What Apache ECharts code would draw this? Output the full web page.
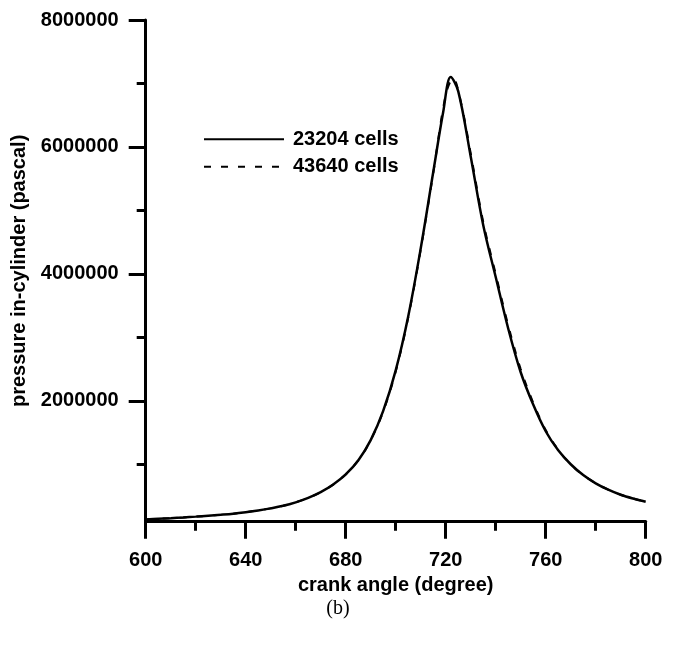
<!DOCTYPE html>
<html>
<head>
<meta charset="utf-8">
<script src="https://cdn.jsdelivr.net/npm/echarts@6/dist/echarts.min.js"></script>
<style>html,body{margin:0;padding:0;background:#fff;}#c{width:676px;height:645px;}</style>
</head>
<body>
<div id="c"></div>
<script>
var seriesNames = ['23204 cells', '43640 cells'];
var angles1 = [600,605,610,615,620,625,630,635,640,645,650,655,660,665,670,675,680,685,690,695,700,705,710,715,719,722,725,730,735,740,745,750,755,760,765,770,775,780,785,790,795,800];
var pressure1 = [130000,140000,150000,162000,175000,190000,205000,222000,245000,272000,305000,345000,400000,470000,560000,680000,840000,1060000,1380000,1840000,2480000,3330000,4400000,5600000,6550000,7100000,6880000,5850000,4770000,3950000,3140000,2450000,1940000,1520000,1220000,1000000,830000,700000,600000,520000,460000,410000];
var angles2 = [600,605,610,615,620,625,630,635,640,645,650,655,660,665,670,675,680,685,690,695,700,705,710,715,720,723,726,730,735,740,745,750,755,760,765,770,775,780,785,790,795,800];
var pressure2 = [130000,140000,150000,162000,175000,190000,205000,222000,245000,272000,305000,345000,400000,470000,560000,680000,840000,1060000,1380000,1830000,2460000,3310000,4380000,5580000,6820000,7080000,6720000,5900000,4820000,4000000,3190000,2500000,1970000,1540000,1230000,1000000,830000,700000,600000,520000,460000,410000];
var xTicks = [600,640,680,720,760,800];
var yLabelTicks = [2000000,4000000,6000000,8000000];
var yMinorTicks = [1000000,3000000,5000000,7000000];

function pairs(xs, ys){ return xs.map(function(x,i){ return [x, ys[i]]; }); }

var chart = echarts.init(document.getElementById('c'), null, {renderer:'canvas'});
var font = 'Liberation Sans, Arial, sans-serif';
var yMin = 95000, yMax = 8000000;
chart.setOption({
  backgroundColor: '#fff',
  animation: false,
  grid: {left: 145.7, right: 30.3, top: 20, bottom: 123.3, containLabel: false},
  legend: {
    show: true,
    left: 203, top: 129.3, padding: 0,
    orient: 'vertical',
    itemWidth: 80, itemHeight: 20, itemGap: 7.4,
    itemStyle: {opacity: 0},
    textStyle: {fontFamily: font, fontWeight: 'bold', fontSize: 20, lineHeight: 20, color: '#000', padding: [0,0,0,4]},
    data: seriesNames
  },
  xAxis: {
    type: 'value', min: 600, max: 800, interval: 40,
    name: 'crank angle (degree)', nameLocation: 'middle', nameGap: 50,
    nameTextStyle: {fontFamily: font, fontWeight: 'bold', fontSize: 20, color: '#000'},
    axisLine: {show: true, onZero: false, lineStyle: {color: '#000', width: 3}},
    axisTick: {show: true, length: 17, lineStyle: {color: '#000', width: 3}},
    minorTick: {show: true, splitNumber: 2, length: 9, lineStyle: {color: '#000', width: 3}},
    axisLabel: {fontFamily: font, fontWeight: 'bold', fontSize: 20, color: '#000', margin: 29,
      formatter: function(v){ return String(v); }},
    splitLine: {show: false}
  },
  yAxis: [{
    type: 'value', min: yMin, max: yMax,
    name: 'pressure in-cylinder (pascal)', nameLocation: 'middle', nameGap: 110.7,
    nameTextStyle: {fontFamily: font, fontWeight: 'bold', fontSize: 20, color: '#000'},
    axisLine: {show: true, onZero: false, lineStyle: {color: '#000', width: 3}},
    axisTick: {show: true, length: 17, customValues: yLabelTicks, lineStyle: {color: '#000', width: 3}},
    axisLabel: {fontFamily: font, fontWeight: 'bold', fontSize: 20, color: '#000', margin: 27, customValues: yLabelTicks,
      formatter: function(v){ return String(v); }},
    splitLine: {show: false}
  }, {
    type: 'value', min: yMin, max: yMax, position: 'left',
    axisLine: {show: false},
    axisTick: {show: true, length: 9, customValues: yMinorTicks, lineStyle: {color: '#000', width: 3}},
    axisLabel: {show: false, customValues: yMinorTicks},
    splitLine: {show: false}
  }],
  series: [{
    name: seriesNames[0], type: 'line', smooth: 0.35, symbol: 'none',
    data: pairs(angles1, pressure1),
    lineStyle: {color: '#000', width: 2.5, type: 'solid'},
    itemStyle: {color: '#000'}
  }, {
    name: seriesNames[1], type: 'line', smooth: 0.35, symbol: 'none',
    data: pairs(angles2, pressure2),
    lineStyle: {color: '#000', width: 2, type: [7, 10]},
    itemStyle: {color: '#000'}
  }],
  graphic: [{
    type: 'text', left: 'center', top: 599,
    style: {text: '(b)', font: '20px "Liberation Serif", "Times New Roman", serif', fill: '#000'}
  }]
});
</script>
</body>
</html>
